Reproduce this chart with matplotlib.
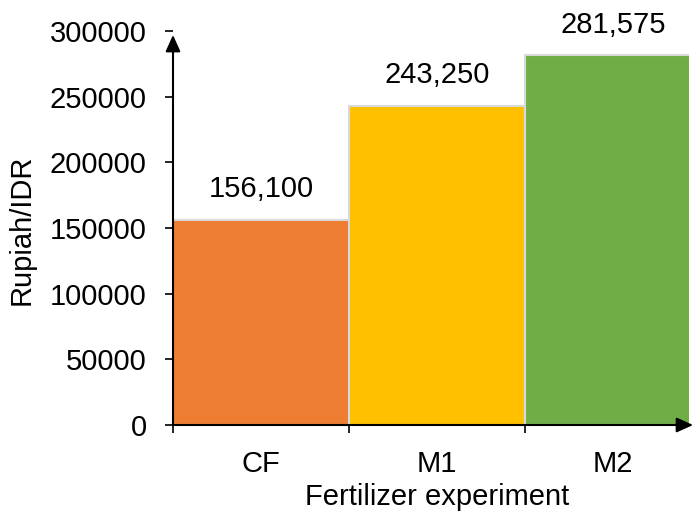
import matplotlib
matplotlib.use('Agg')
import matplotlib.pyplot as plt

plt.rcParams['font.family'] = ['Liberation Sans', 'DejaVu Sans']

categories = ['CF', 'M1', 'M2']
values = [156100, 243250, 281575]
bar_colors = ['#ED7D31', '#FFC000', '#70AD47']
yticks = [0, 50000, 100000, 150000, 200000, 250000, 300000]

W, H = 693, 515
FS = 21
fig = plt.figure(figsize=(W / 100, H / 100), dpi=100)
ax = fig.add_axes([173 / W, 90 / H, (689 - 173) / W, (425 - 31) / H])

x = list(range(len(categories)))
ax.bar(x, values, width=1.0, color=bar_colors, edgecolor='#d9d9d9', linewidth=1.5)

for xi, v in zip(x, values):
    ax.annotate(f'{v:,}', (xi, v), textcoords='offset points', xytext=(0, 22),
                ha='center', va='center', fontsize=FS)

ax.set_xlim(-0.5, -0.5 + (689 - 173) / 176)
ax.set_ylim(0, 300000)

# y ticks
ax.set_yticks(yticks)
ax.set_yticklabels([str(t) for t in yticks], fontsize=FS)
ax.tick_params(axis='y', length=6, width=1.2, pad=13)

# x ticks: marks on category boundaries, labels at centres
ax.set_xticks([-0.5, 0.5, 1.5])
ax.set_xticklabels([])
ax.set_xticks(x, minor=True)
ax.set_xticklabels(categories, minor=True, fontsize=FS)
ax.tick_params(axis='x', which='major', length=6, width=1.2, direction='out')
ax.tick_params(axis='x', which='minor', length=0, pad=18)

for s in ['top', 'right', 'left', 'bottom']:
    ax.spines[s].set_visible(False)

# axis arrows
arrow = dict(arrowstyle='-|>,head_length=1.0,head_width=0.45', color='black', lw=1.5,
             shrinkA=0, shrinkB=0)
ax.annotate('', xy=(0, 0.99), xytext=(0, 0), xycoords='axes fraction',
            textcoords='axes fraction', arrowprops=arrow, annotation_clip=False)
ax.annotate('', xy=(1.008, 0), xytext=(0, 0), xycoords='axes fraction',
            textcoords='axes fraction', arrowprops=arrow, annotation_clip=False)

fig.text(22 / W, 1 - 230 / H, 'Rupiah/IDR', rotation=90, ha='center', va='center', fontsize=FS)
fig.text(437 / W, 1 - 497 / H, 'Fertilizer experiment', ha='center', va='center', fontsize=FS)

fig.savefig('out.png', dpi=100)
